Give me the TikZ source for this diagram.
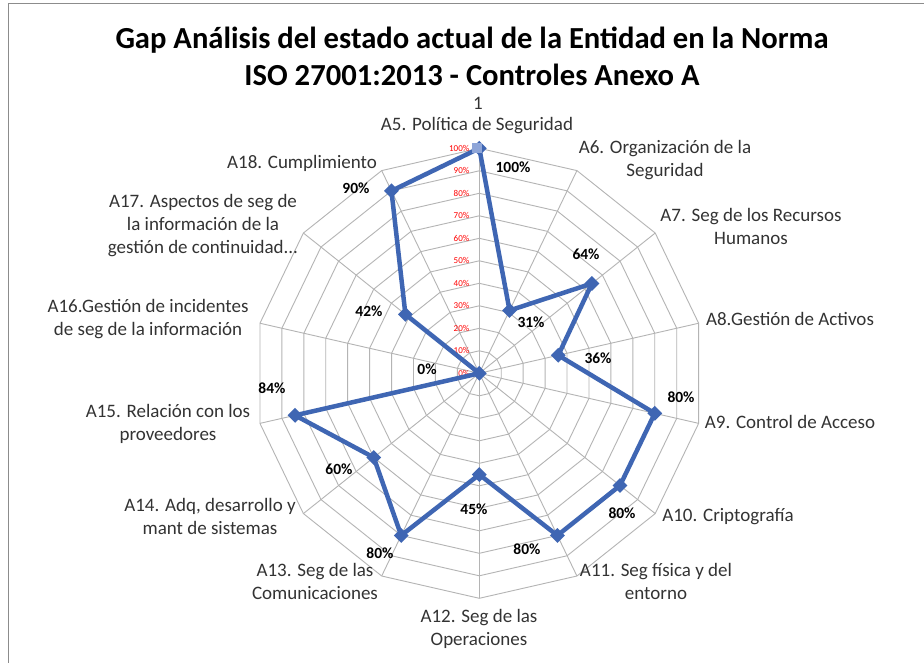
\documentclass[tikz,border=0pt]{standalone}
\usepackage{fontspec}
\setmainfont{Carlito}
\usetikzlibrary{shapes.geometric}
\definecolor{gridgray}{HTML}{B4B4B4}
\definecolor{serie}{HTML}{3F66B3}
\definecolor{selsq}{HTML}{8EA5D8}
\definecolor{framegray}{HTML}{8C8C8C}
\definecolor{labelgray}{HTML}{333333}
\begin{document}
\begin{tikzpicture}[x=1pt,y=-1pt,
  axlabel/.style={font=\fontsize{19}{23}\selectfont, align=center, inner sep=0pt, text=labelgray},
  pct/.style={font=\bfseries\fontsize{15.5}{18}\selectfont, inner sep=0pt, text=black},
  tick/.style={font=\fontsize{9}{10}\selectfont, text=red, anchor=east, inner sep=0pt},
  titletext/.style={font=\bfseries\fontsize{30.6}{37}\selectfont, inner sep=0pt, anchor=base},
  marker/.style={diamond, fill=serie, minimum width=15pt, minimum height=15pt, inner sep=0pt},
  gridline/.style={draw=gridgray, line width=0.9pt},
  serieline/.style={draw=serie, line width=4.5pt, line join=round}
]
\useasboundingbox (0,0) rectangle (924,663);
\fill[white] (0,0) rectangle (924,663);
\draw[framegray, line width=1.5pt] (8.3,663) -- (8.3,3.3) -- (924,3.3);

% title
\node[titletext] (title1) at (472,49) {Gap Análisis del estado actual de la Entidad en la Norma};
\node[titletext] (title2) at (472,86) {ISO 27001:2013 - Controles Anexo A};

% radar grid and data
\begin{scope}[shift={(479.3,373.3)}]
  \foreach \i in {1,...,10} {
    \pgfmathsetmacro\rr{\i*22.5}
    \draw[gridline] (-90:\rr) \foreach \k in {1,...,13} { -- ({\k*360/14-90}:\rr) } -- cycle;
  }
  \foreach \k in {0,...,13} {
    \coordinate (s\k) at ({\k*360/14-90}:225);
    \draw[gridline] (0,0) -- (s\k);
  }
  \foreach \v [count=\k from 0] in {100,31,64,36,80,80,80,45,80,60,84,0,42,90} {
    \coordinate (d\k) at ({\k*360/14-90}:{\v*2.25});
  }
\end{scope}

% red scale labels
\foreach \i in {0,...,10} {
  \pgfmathtruncatemacro\p{\i*10}
  \node[tick] (t\i) at (469.5,{373.3-\i*22.5}) {\p\%};
}

% series
\draw[serieline] (d0) -- (d1) -- (d2) -- (d3) -- (d4) -- (d5) -- (d6) -- (d7) -- (d8) -- (d9) -- (d10) -- (d11) -- (d12) -- (d13) -- cycle;
\foreach \k in {0,...,13} { \node[marker] (m\k) at (d\k) {}; }
\node[fill=selsq, minimum width=10pt, minimum height=10pt, inner sep=0pt] (sel) at ([xshift=-2pt]d0) {};

% category labels
\node[axlabel] (one) at (478,103) {1};
\node[axlabel] (a5) at (477,126) {A5. Política de Seguridad};
\node[axlabel] (a6) at (665,160) {A6. Organización de la\\Seguridad};
\node[axlabel] (a7) at (751,226) {A7. Seg de los Recursos\\Humanos};
\node[axlabel] (a8) at (790,319) {A8.Gestión de Activos};
\node[axlabel] (a9) at (790,422) {A9. Control de Acceso};
\node[axlabel] (a10) at (728,517) {A10. Criptografía};
\node[axlabel] (a11) at (656,581.5) {A11. Seg física y del\\entorno};
\node[axlabel] (a12) at (479,629) {A12. Seg de las\\Operaciones};
\node[axlabel] (a13) at (315,581.5) {A13. Seg de las\\Comunicaciones};
\node[axlabel] (a14) at (210,516.5) {A14. Adq, desarrollo y\\mant de sistemas};
\node[axlabel] (a15) at (168,424) {A15. Relación con los\\proveedores};
\node[axlabel] (a16) at (148,319.5) {A16.Gestión de incidentes\\de seg de la información};
\node[axlabel] (a17) at (203,225.5) {A17. Aspectos de seg de\\la información de la\\gestión de continuidad...};
\node[axlabel] (a18) at (302,163) {A18. Cumplimiento};

% value labels
\node[pct] (v5) at (513,167) {100\%};
\node[pct] (v6) at (531,322) {31\%};
\node[pct] (v7) at (586,254) {64\%};
\node[pct] (v8) at (598,358) {36\%};
\node[pct] (v9) at (681,397) {80\%};
\node[pct] (v10) at (622,513) {80\%};
\node[pct] (v11) at (527,549) {80\%};
\node[pct] (v12) at (474,509) {45\%};
\node[pct] (v13) at (380,553) {80\%};
\node[pct] (v14) at (339,469) {60\%};
\node[pct] (v15) at (272,388) {84\%};
\node[pct] (v16) at (427,369) {0\%};
\node[pct] (v17) at (369,311) {42\%};
\node[pct] (v18) at (356,188) {90\%};
\end{tikzpicture}
\end{document}
